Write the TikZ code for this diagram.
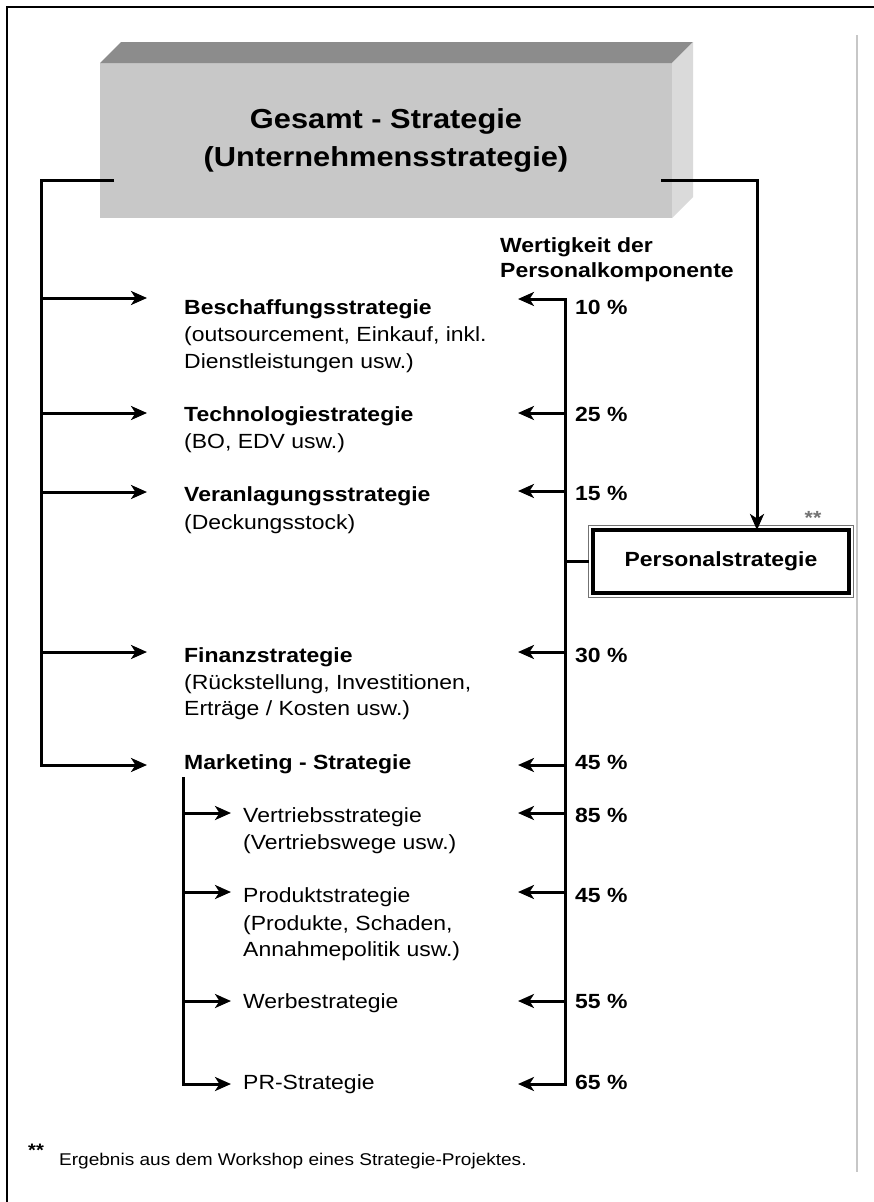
\documentclass[tikz,border=0pt]{standalone}
\usepackage{fontspec}
\setmainfont[FakeStretch=1.12]{Liberation Sans}
\usetikzlibrary{arrows.meta,calc}
\definecolor{frontgray}{RGB}{200,200,200}
\definecolor{topgray}{RGB}{140,140,140}
\definecolor{sidegray}{RGB}{218,218,218}
\begin{document}
\begin{tikzpicture}[x=1pt,y=-1pt,line join=miter]
\tikzset{
  tip/.tip={Stealth[length=16pt,width=14pt,inset=4.5pt]},
  ln/.style={line width=3pt},
  arr/.style={line width=3pt,-tip},
  darr/.style={line width=3pt,tip-tip},
  hd/.style={font=\fontsize{20.5}{27}\selectfont\bfseries,anchor=base west,inner sep=0pt},
  tx/.style={font=\fontsize{20.5}{27}\selectfont,anchor=base west,inner sep=0pt},
  pc/.style={font=\fontsize{20.5}{27}\selectfont\bfseries,anchor=base west,inner sep=0pt},
}
\useasboundingbox (0,0) rectangle (874,1202);
\fill[white] (0,0) rectangle (874,1202);
% frame
\draw[line width=2.6pt] (7,1202) -- (7,7) -- (874,7);
\draw[black!22,line width=1.4pt] (857,35) -- (857,1172);

% 3D box
\node[fill=frontgray,minimum width=572pt,minimum height=155pt,inner sep=0pt,outer sep=0pt,
      align=center,font=\fontsize{27.5}{38}\selectfont\bfseries] (gs) at (386,140.5)
      {Gesamt - Strategie\\(Unternehmensstrategie)};
\fill[topgray] (gs.north west) -- ++(21,-21) -- ++(572,0) -- (gs.north east) -- cycle;
\fill[sidegray] (gs.north east) -- ++(21,-21) -- ++(0,155) -- (gs.south east) -- cycle;

% Personalstrategie box
\node[draw=black,line width=4.5pt,minimum width=256pt,minimum height=63pt,inner sep=0pt,outer sep=0pt,
      font=\fontsize{20.5}{27}\selectfont\bfseries] (ps) at (721,561.5) {Personalstrategie};
\draw[black!55,line width=1.5pt] ([shift={(-4.5pt,4.5pt)}]ps.north west) rectangle ([shift={(4.5pt,-4.5pt)}]ps.south east);
\node[font=\fontsize{19}{24}\selectfont\bfseries,text=black!55,anchor=base,inner sep=0pt] (st) at (813,524) {**};

% header of right column
\node[hd] (w1) at (500,252) {Wertigkeit der};
\node[hd] (w2) at (500,277) {Personalkomponente};

% left items
\node[hd] (hB) at (184,314) {Beschaffungsstrategie};
\node[tx] (dB1) at (184,341) {(outsourcement, Einkauf, inkl.};
\node[tx] (dB2) at (184,368) {Dienstleistungen usw.)};
\node[hd] (hT) at (184,421) {Technologiestrategie};
\node[tx] (dT1) at (184,448) {(BO, EDV usw.)};
\node[hd] (hV) at (184,501) {Veranlagungsstrategie};
\node[tx] (dV1) at (184,529) {(Deckungsstock)};
\node[hd] (hF) at (184,662) {Finanzstrategie};
\node[tx] (dF1) at (184,689) {(Rückstellung, Investitionen,};
\node[tx] (dF2) at (184,715) {Erträge / Kosten usw.)};
\node[hd] (hM) at (184,769) {Marketing - Strategie};
\node[tx] (hVt) at (243,822) {Vertriebsstrategie};
\node[tx] (dVt1) at (243,849) {(Vertriebswege usw.)};
\node[tx] (hP) at (243,902) {Produktstrategie};
\node[tx] (dP1) at (243,930) {(Produkte, Schaden,};
\node[tx] (dP2) at (243,956) {Annahmepolitik usw.)};
\node[tx] (hW) at (243,1008) {Werbestrategie};
\node[tx] (hR) at (243,1089) {PR-Strategie};

% percentages
\node[pc] (p1) at (575,314) {10 \%};
\node[pc] (p2) at (575,421) {25 \%};
\node[pc] (p3) at (575,500) {15 \%};
\node[pc] (p4) at (575,662) {30 \%};
\node[pc] (p5) at (575,769) {45 \%};
\node[pc] (p6) at (575,822) {85 \%};
\node[pc] (p7) at (575,902) {45 \%};
\node[pc] (p8) at (575,1008) {55 \%};
\node[pc] (p9) at (575,1089) {65 \%};

% left trunk and arrows
\coordinate (lt) at (41,180);
\coordinate (lB) at (41,298);  \coordinate (aB) at (147,298);
\coordinate (lT) at (41,413);  \coordinate (aT) at (147,413);
\coordinate (lV) at (41,492);  \coordinate (aV) at (147,492);
\coordinate (lF) at (41,652);  \coordinate (aF) at (147,652);
\coordinate (lM) at (41,765);  \coordinate (aM) at (147,765);
\draw[arr] ([xshift=14pt]gs.west |- lt) -- (lt) -- (lM) -- (aM);
\foreach \n in {B,T,V,F}{
  \draw[arr] (l\n) -- (a\n);
}

% right connection to Personalstrategie
\coordinate (rt) at (757,180);
\draw[arr] ([xshift=-11pt]gs.east |- rt) -- (rt) -- (rt |- ps.north);

% right distribution trunk
\coordinate (r1) at (565,299);  \coordinate (t1) at (518,299);
\coordinate (r2) at (565,413);  \coordinate (t2) at (518,413);
\coordinate (r3) at (565,491);  \coordinate (t3) at (518,491);
\coordinate (r4) at (565,652);  \coordinate (t4) at (518,652);
\coordinate (r5) at (565,765);  \coordinate (t5) at (518,765);
\coordinate (r6) at (565,813);  \coordinate (t6) at (518,813);
\coordinate (r7) at (565,892);  \coordinate (t7) at (518,892);
\coordinate (r8) at (565,1001); \coordinate (t8) at (518,1001);
\coordinate (r9) at (565,1084); \coordinate (t9) at (518,1084);
\draw[darr] (t1) -- (r1) -- (r9) -- (t9);
\foreach \n in {2,...,8}{
  \draw[arr] (r\n) -- (t\n);
}
\draw[ln] (r1 |- ps.west) -- ([xshift=-4.5pt]ps.west);

% marketing sub trunk
\coordinate (mt) at (183,777);
\coordinate (mVt) at (183,813);  \coordinate (sVt) at (231,813);
\coordinate (mP) at (183,892);   \coordinate (sP) at (231,892);
\coordinate (mW) at (183,1001);  \coordinate (sW) at (231,1001);
\coordinate (mR) at (183,1084);  \coordinate (sR) at (231,1084);
\draw[arr] (mt) -- (mR) -- (sR);
\foreach \n in {Vt,P,W}{
  \draw[arr] (m\n) -- (s\n);
}

% footnote
\node[font=\fontsize{18}{22}\selectfont\bfseries,anchor=base west,inner sep=0pt] (fs) at (28,1156) {**};
\node[font=\fontsize{17}{22}\selectfont,anchor=base west,inner sep=0pt] (fn) at (59,1165) {Ergebnis aus dem Workshop eines Strategie-Projektes.};
\end{tikzpicture}
\end{document}
